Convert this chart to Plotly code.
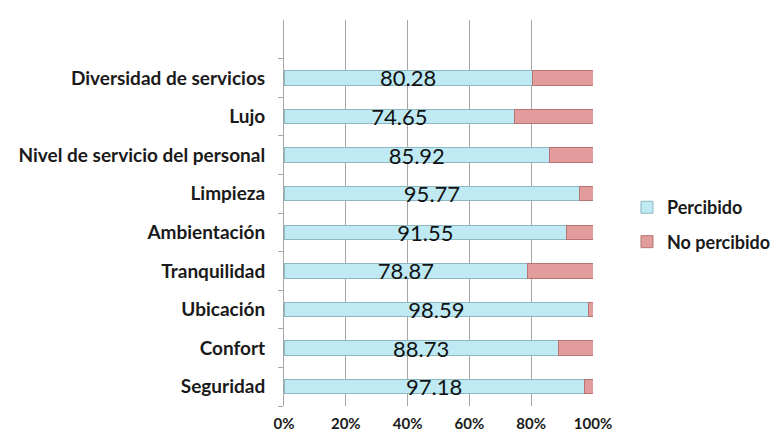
import plotly.graph_objects as go

# Categories listed bottom to top
CATEGORIES = ['Seguridad', 'Confort', 'Ubicación', 'Tranquilidad', 'Ambientación',
              'Limpieza', 'Nivel de servicio del personal', 'Lujo', 'Diversidad de servicios']
PERCIBIDO = [97.18, 88.73, 98.59, 78.87, 91.55, 95.77, 85.92, 74.65, 80.28]
NO_PERCIBIDO = [2.82, 11.27, 1.41, 21.13, 8.45, 4.23, 14.08, 25.35, 19.72]
X_TICKS = [0, 20, 40, 60, 80, 100]
X_TICK_LABELS = [f'{v}%' for v in X_TICKS]

BLUE = '#BFEAF4'
BLUE_EDGE = '#8DB8C2'
RED = '#E39C9C'
RED_EDGE = '#B77474'
FONT = 'Lato, Open Sans, sans-serif'

fig = go.Figure()

fig.add_trace(go.Bar(
    y=CATEGORIES, x=PERCIBIDO, orientation='h', name='Percibido',
    marker=dict(color=BLUE, line=dict(color=BLUE_EDGE, width=1)),
    text=[f'{v:.2f}' for v in PERCIBIDO], textposition='inside',
    insidetextanchor='middle', constraintext='none',
    textfont=dict(size=22, color='#111111', family=FONT),
    legendgroup='a',
))
fig.add_trace(go.Bar(
    y=CATEGORIES, x=NO_PERCIBIDO, orientation='h', name='No percibido',
    marker=dict(color=RED, line=dict(color=RED_EDGE, width=1)),
    legendgroup='b',
))

W, H = 771, 436
left, right = 284, 593
top, bottom = 20, 406

fig.update_layout(
    width=W, height=H,
    barmode='stack', bargap=0.63,
    paper_bgcolor='white', plot_bgcolor='white',
    margin=dict(l=left, r=W - right, t=top, b=H - bottom, autoexpand=False),
    font=dict(family=FONT, size=18, color='#1a1a1a'),
    showlegend=True,
    legend=dict(x=1.11, y=0.47, xanchor='left', yanchor='middle',
                traceorder='grouped', tracegroupgap=8,
                font=dict(size=18, family=FONT, weight='bold')),
)

fig.update_xaxes(
    range=[0, 100], tickvals=X_TICKS, ticktext=X_TICK_LABELS,
    showgrid=True, gridcolor='#A6A6A6', gridwidth=1,
    zeroline=False, showline=False,
    ticks='outside', ticklen=4, tickcolor='rgba(0,0,0,0)',
    tickfont=dict(size=15, family=FONT, weight='bold', color='#1a1a1a'),
)
fig.update_yaxes(
    categoryorder='array', categoryarray=CATEGORIES, range=[-0.5, 9.5],
    showline=True, linecolor='#A6A6A6', linewidth=1,
    ticks='outside', tickson='boundaries', ticklen=5, tickcolor='#A6A6A6',
    ticklabelstandoff=14, showgrid=False,
    tickfont=dict(size=19, family=FONT, weight='bold', color='#1a1a1a'),
)

# drop the default page margin so the figure sits at the window's top-left corner
fig.write_html('out.html', config={'displayModeBar': False},
               post_script="document.body.style.margin='0';")
